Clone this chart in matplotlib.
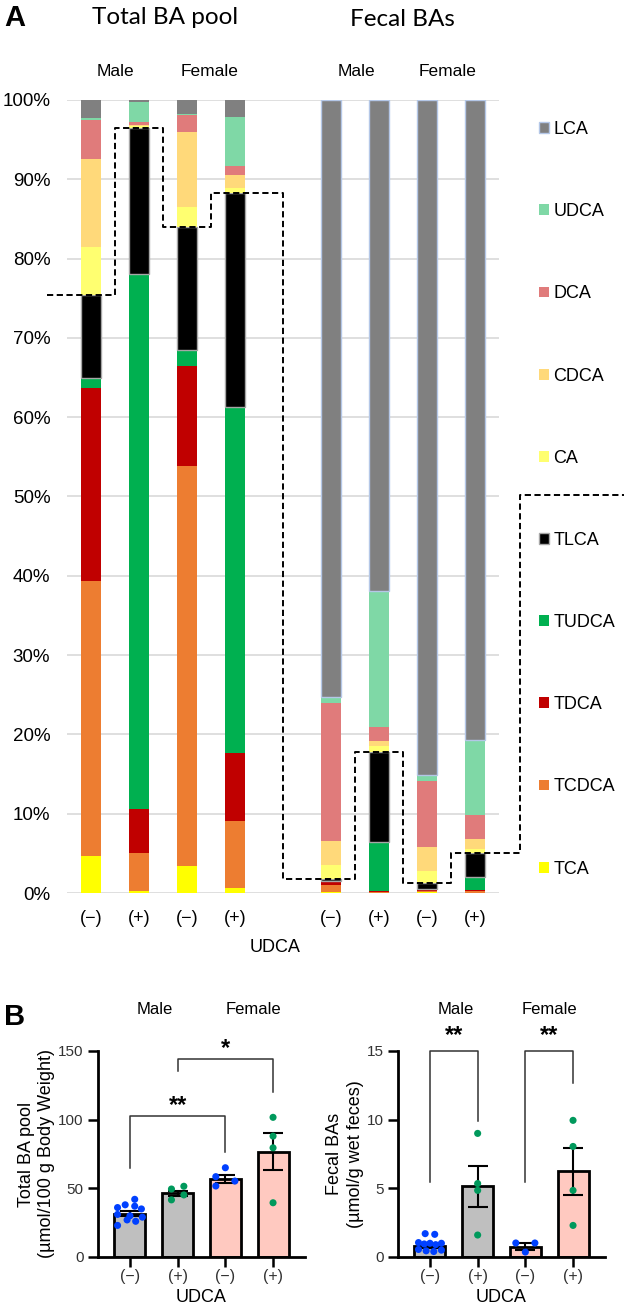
import numpy as np
import matplotlib
matplotlib.use('Agg')
import matplotlib.pyplot as plt
from matplotlib.patches import Patch

plt.rcParams['font.family'] = ['Liberation Sans', 'DejaVu Sans']

# ---------------- data, panel A (percent of each bile acid) ----------------
bar_labels_A = ['(−)', '(+)', '(−)', '(+)', '(−)', '(+)', '(−)', '(+)']
species = ['TCA', 'TCDCA', 'TDCA', 'TUDCA', 'TLCA', 'CA', 'CDCA', 'DCA', 'UDCA', 'LCA']
TCA   = [4.7, 0.3, 3.4, 0.6, 0.1, 0.0, 0.1, 0.05]
TCDCA = [34.6, 4.7, 50.4, 8.5, 0.9, 0.1, 0.2, 0.15]
TDCA  = [24.4, 5.6, 12.7, 8.6, 0.4, 0.2, 0.1, 0.2]
TUDCA = [1.3, 67.4, 2.0, 43.6, 0.1, 6.1, 0.1, 1.6]
TLCA  = [10.4, 18.5, 15.5, 27.0, 0.3, 11.4, 0.8, 3.0]
CA    = [6.0, 0.2, 2.5, 0.6, 1.7, 0.7, 1.5, 0.5]
CDCA  = [11.1, 0.2, 9.5, 1.7, 3.1, 0.7, 3.0, 1.3]
DCA   = [5.0, 0.3, 2.1, 1.1, 17.4, 1.7, 8.3, 3.0]
UDCA  = [0.2, 2.5, 0.1, 6.1, 0.7, 17.2, 0.8, 9.5]
LCA   = [2.3, 0.3, 1.8, 2.2, 75.3, 61.9, 85.1, 80.7]
legend_box_level = 50.2

# ---------------- data, panel B ----------------
bar_labels_B = ['(−)', '(+)', '(−)', '(+)']
pool_mean = [31.5, 46.5, 56.8, 76.8]
pool_sem = [1.8, 1.8, 2.8, 13.5]
pool_points = [[42, 38, 37, 36, 35, 31, 30, 29, 27, 26, 23],
               [49.5, 51.5, 41.6, 45.2],
               [65, 58.5, 55.3, 51.7],
               [101.7, 88, 79.5, 39.5]]
fecal_mean = [0.8, 5.15, 0.75, 6.25]
fecal_sem = [0.18, 1.5, 0.25, 1.7]
fecal_points = [[1.7, 1.65, 1.05, 1.0, 1.0, 0.95, 0.9, 0.55, 0.5, 0.45, 0.4],
                [9.0, 5.35, 4.85, 1.6],
                [1.02, 1.02, 0.36],
                [9.95, 8.05, 4.85, 2.3]]

# ---------------- styles ----------------
colors = {'TCA': '#FFFF00', 'TCDCA': '#ED7D31', 'TDCA': '#C00000', 'TUDCA': '#00B050',
          'TLCA': '#000000', 'CA': '#FFFF70', 'CDCA': '#FFD97A', 'DCA': '#E07B7B',
          'UDCA': '#7FD8A6', 'LCA': '#808080'}
x_A = np.array([0, 1, 2, 3, 5, 6, 7, 8])
W, H = 624, 1305

fig = plt.figure(figsize=(W / 100, H / 100), dpi=100)


def px_axes(left, right, top, bottom):
    return fig.add_axes([left / W, (H - bottom) / H, (right - left) / W, (bottom - top) / H])


# ================= panel A =================
axA = px_axes(67, 499, 100, 893)
data = {'TCA': TCA, 'TCDCA': TCDCA, 'TDCA': TDCA, 'TUDCA': TUDCA, 'TLCA': TLCA,
        'CA': CA, 'CDCA': CDCA, 'DCA': DCA, 'UDCA': UDCA, 'LCA': LCA}
bottom = np.zeros(len(x_A))
handles = []
for sp in species:
    vals = np.array(data[sp])
    if sp == 'TLCA':
        ec, lw = '#a6a6a6', 1.0
    elif sp == 'LCA':
        ec, lw = ['none'] * 4 + ['#B4C7E7'] * 4, 1.0
    else:
        ec, lw = 'none', 0
    axA.bar(x_A, vals, width=0.4, bottom=bottom, color=colors[sp], edgecolor=ec,
            linewidth=lw, zorder=3)
    if sp == 'TLCA':
        tlca_top = bottom + vals
    bottom = bottom + vals
    handles.append(Patch(facecolor=colors[sp], edgecolor='#B4C7E7' if sp == 'LCA' else
                         ('#a6a6a6' if sp == 'TLCA' else 'none'), label=sp))

axA.set_xlim(-0.5, 8.5)
axA.set_ylim(0, 100)
axA.set_yticks(np.arange(0, 101, 10))
axA.set_yticklabels([f'{v}%' for v in range(0, 101, 10)], fontsize=13.5)
axA.set_xticks(x_A)
axA.set_xticklabels(bar_labels_A, fontsize=13)
axA.tick_params(axis='both', length=0)
axA.tick_params(axis='x', pad=12)
axA.tick_params(axis='y', pad=12)
axA.grid(axis='y', color='#d9d9d9', linewidth=1.2, zorder=0)
for s in axA.spines.values():
    s.set_visible(False)

# dashed outline over the TLCA tops
mids = (x_A[:-1] + x_A[1:]) / 2
edges = np.concatenate([[x_A[0] - 0.92], mids, [x_A[-1] + 0.94]])
xs, ys = [], []
for i, lev in enumerate(tlca_top):
    xs += [edges[i], edges[i + 1]]
    ys += [lev, lev]
xs += [edges[-1], 11.2]
ys += [legend_box_level, legend_box_level]
axA.plot(xs, ys, color='black', lw=1.4, dashes=(3.2, 1.8), clip_on=False, zorder=5)

axA.legend(handles=handles[::-1], loc='upper left', bbox_to_anchor=(539 / W, 1 - 121 / H),
           bbox_transform=fig.transFigure, frameon=False, fontsize=13, borderpad=0,
           borderaxespad=0, handlelength=0.55, handleheight=0.55, handletextpad=0.25,
           labelspacing=3.61)

fig.text(15 / W, 1 - 18 / H, 'A', fontsize=21, fontweight='bold', ha='center', va='center')
fig.text(165 / W, 1 - 18 / H, 'Total BA pool', fontsize=17.5, family='Lato', ha='center', va='center')
fig.text(402 / W, 1 - 20 / H, 'Fecal BAs', fontsize=17.5, family='Lato', ha='center', va='center')
for xp, lab in [(115, 'Male'), (210, 'Female'), (356, 'Male'), (448, 'Female')]:
    fig.text(xp / W, 1 - 71 / H, lab, fontsize=12.5, ha='center', va='center')
fig.text(275 / W, 1 - 948 / H, 'UDCA', fontsize=13, ha='center', va='center')

# ================= panel B =================
fig.text(15 / W, 1 - 1017 / H, 'B', fontsize=21, fontweight='bold', ha='center', va='center')

bar_cols = ['#BFBFBF', '#BFBFBF', '#FFC9C0', '#FFC9C0']
dot_cols = ['#0040FF', '#00995C', '#0040FF', '#00995C']
off11 = [0.1, -0.1, 0.1, -0.26, 0.24, -0.26, 0.0, 0.26, -0.06, 0.12, -0.26]
off11f = [-0.1, 0.1, -0.24, 0.24, 0.0, -0.12, 0.12, -0.24, 0.24, -0.08, 0.08]
offs_pool = [off11, [-0.13, 0.13, -0.13, 0.13], [0.0, -0.2, 0.2, -0.2], [0, 0, 0, 0]]
offs_fecal = [off11f, [0, 0, 0, 0], [-0.2, 0.2, 0.0], [0, 0, 0, 0]]


def panel_b(ax, means, sems, points, offs, ymax, ylab):
    xb = np.arange(len(means))
    ax.bar(xb, means, width=0.65, color=bar_cols, edgecolor='black', linewidth=2, zorder=2)
    ax.errorbar(xb, means, yerr=sems, fmt='none', ecolor='black', elinewidth=1.5,
                capsize=7, capthick=1.5, zorder=4)
    for i, pts in enumerate(points):
        ax.scatter(xb[i] + np.array(offs[i]), pts, s=26, color=dot_cols[i],
                   edgecolors='none', zorder=5, clip_on=False)
    ax.set_xlim(-0.67, 3.67)
    ax.set_ylim(0, ymax)
    ax.set_yticks(np.linspace(0, ymax, 4))
    ax.set_yticklabels([f'{v:g}' for v in np.linspace(0, ymax, 4)], fontsize=11, color='#333333')
    ax.set_xticks(xb)
    ax.set_xticklabels(bar_labels_B, fontsize=11.5, color='#333333')
    ax.tick_params(width=1.8, length=7, direction='out')
    ax.tick_params(axis='x', pad=1.5)
    for s in ['top', 'right']:
        ax.spines[s].set_visible(False)
    for s in ['left', 'bottom']:
        ax.spines[s].set_linewidth(2)
    ax.set_xlabel('UDCA', fontsize=13, labelpad=4)
    ax.set_ylabel(ylab, fontsize=13, linespacing=1.25, labelpad=2)


def bracket(ax, x1, x2, top, y1, y2, star, ystar):
    ax.plot([x1, x1, x2, x2], [y1, top, top, y2], color='#333333', lw=1.1, clip_on=False)
    ax.text((x1 + x2) / 2, ystar, star, ha='center', va='center', fontsize=17,
            fontweight='bold', clip_on=False)


axB1 = px_axes(98, 305, 1051, 1257)
panel_b(axB1, pool_mean, pool_sem, pool_points, offs_pool, 150,
        'Total BA pool\n(µmol/100 g Body Weight)')
bracket(axB1, 0, 2, 102.7, 65, 76.5, '**', 110)
bracket(axB1, 1, 3, 144, 135.5, 120, '*', 152)

axB2 = px_axes(398, 605, 1051, 1257)
panel_b(axB2, fecal_mean, fecal_sem, fecal_points, offs_fecal, 15,
        'Fecal BAs\n(µmol/g wet feces)')
bracket(axB2, 0, 1, 15.0, 5.46, 9.9, '**', 16.1)
bracket(axB2, 2, 3, 15.0, 5.46, 12.7, '**', 16.1)

for xp, lab in [(155, 'Male'), (253, 'Female'), (456, 'Male'), (549, 'Female')]:
    fig.text(xp / W, 1 - 1009 / H, lab, fontsize=12, ha='center', va='center')

fig.savefig('out.png', dpi=100)
